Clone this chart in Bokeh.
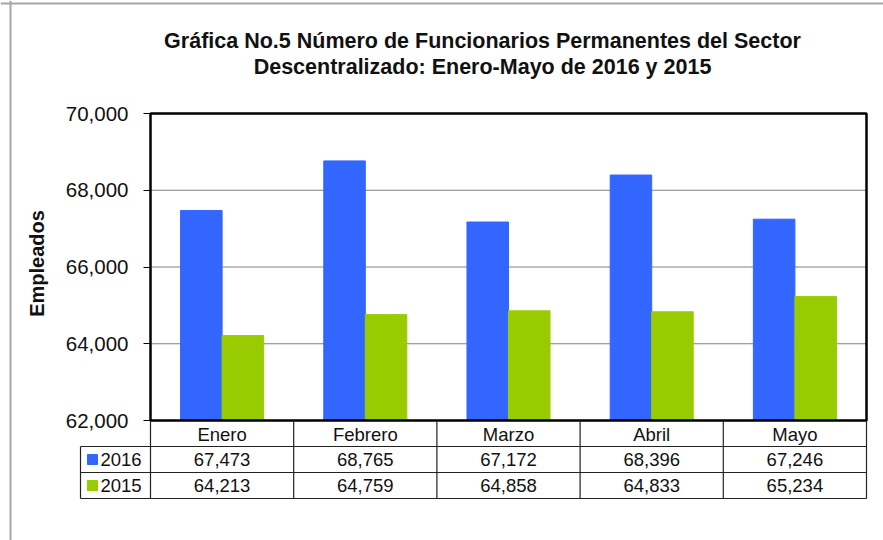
import numpy as np
from bokeh.plotting import figure
from bokeh.models import Range1d, LinearAxis, FixedTicker, NumeralTickFormatter, Label, Span
from bokeh.core.properties import value
from bokeh.embed import file_html
from bokeh.resources import INLINE

# ---------------- data ----------------
title_lines = ["Gráfica No.5 Número de Funcionarios Permanentes del Sector",
               "Descentralizado: Enero-Mayo de 2016 y 2015"]
y_label = "Empleados"
months = ["Enero", "Febrero", "Marzo", "Abril", "Mayo"]
series_names = ["2016", "2015"]
values_2016 = [67473, 68765, 67172, 68396, 67246]
values_2015 = [64213, 64759, 64858, 64833, 65234]
y_ticks = [62000, 64000, 66000, 68000, 70000]
colors = ["#3366FF", "#99CC00"]

# ---------------- layout (canvas pixels) ----------------
FONT = "Liberation Sans"
W, H = 883, 540
OX, OY = 0, 0
PLOT_L, PLOT_R = 150, 866
PLOT_T, PLOT_B = 113, 420
ROW_H = 26
LEG_L = 80
Y_MIN, Y_MAX = y_ticks[0], y_ticks[-1]
n = len(months)
sx = (PLOT_R - PLOT_L) / n
sy = (PLOT_B - PLOT_T) / (Y_MAX - Y_MIN)


def dx(px):
    return (px - PLOT_L) / sx


def dy(py):
    return Y_MIN + (PLOT_B - py) / sy


p = figure(width=W, height=H, output_backend="svg", toolbar_location=None,
           x_range=Range1d(dx(OX), dx(OX + W)), y_range=Range1d(dy(OY + H), dy(OY)),
           x_axis_type=None, y_axis_type=None, min_border=0)
p.title.visible = False
p.outline_line_color = None
p.background_fill_color = "white"
p.border_fill_color = "white"

# outer chart border (grey)
p.add_layout(Span(location=dx(10), dimension="height", line_color="#a6a6a6", line_width=2))
p.add_layout(Span(location=dy(3), dimension="width", line_color="#a6a6a6", line_width=2))

idx = np.arange(n)
centers = idx + 0.5

# gridlines
grid_vals = [t for t in y_ticks if Y_MIN < t < Y_MAX]
p.segment(x0=[0] * len(grid_vals), x1=[n] * len(grid_vals), y0=grid_vals, y1=grid_vals,
          line_color="#000000", line_width=1, line_dash="1 1")

# bars
bw = 0.29
p.vbar(x=centers - bw / 2, top=values_2016, bottom=Y_MIN, width=bw,
       fill_color=colors[0], line_color=colors[0])
p.vbar(x=centers + bw / 2, top=values_2015, bottom=Y_MIN, width=bw,
       fill_color=colors[1], line_color=colors[1])

# plot box
p.quad(left=[0], right=[n], bottom=[Y_MIN], top=[Y_MAX], fill_color=None,
       line_color="black", line_width=2.5)

# y axis
yax = LinearAxis(fixed_location=0, ticker=FixedTicker(ticks=y_ticks),
                 formatter=NumeralTickFormatter(format="0,0"), bounds=(Y_MIN, Y_MAX))
yax.axis_line_color = None
yax.major_tick_out = 7
yax.major_tick_in = 0
yax.minor_tick_out = 0
yax.minor_tick_in = 0
yax.major_tick_line_color = "black"
yax.major_label_standoff = 15
yax.major_label_text_font = FONT
yax.major_label_text_font_size = "20.5px"
yax.major_label_text_color = "#111111"
p.add_layout(yax, "left")

# x axis (category labels in the table header row)
xax = LinearAxis(fixed_location=Y_MIN, ticker=FixedTicker(ticks=list(centers)),
                 major_label_overrides={float(c): m for c, m in zip(centers, months)})
xax.axis_line_color = None
xax.major_tick_line_color = None
xax.major_tick_out = 0
xax.major_tick_in = 0
xax.minor_tick_out = 0
xax.minor_tick_in = 0
xax.major_label_standoff = 3
xax.major_label_text_font = FONT
xax.major_label_text_font_size = "18.5px"
xax.major_label_text_color = "#111111"
p.add_layout(xax, "below")

# data table lines
row_tops = [PLOT_B + ROW_H, PLOT_B + 2 * ROW_H, PLOT_B + 3 * ROW_H]
vx = list(range(n + 1))
p.segment(x0=vx, x1=vx, y0=[Y_MIN] * len(vx), y1=[dy(PLOT_B + 3 * ROW_H)] * len(vx),
          line_color="#222222", line_width=1.2)
p.segment(x0=[dx(LEG_L)], x1=[dx(LEG_L)], y0=[dy(PLOT_B + ROW_H)], y1=[dy(PLOT_B + 3 * ROW_H)],
          line_color="#222222", line_width=1.2)
hy = [dy(v) for v in row_tops]
p.segment(x0=[dx(LEG_L)] * 3, x1=[n] * 3, y0=hy, y1=hy, line_color="#222222", line_width=1.2)

# table rows
row_centers = [dy(PLOT_B + ROW_H * 1.5), dy(PLOT_B + ROW_H * 2.5)]
for vals, yc, name, col in zip([values_2016, values_2015], row_centers, series_names, colors):
    p.text(x=centers, y=[yc] * n, text=[f"{v:,}" for v in vals], text_align="center",
           text_baseline="middle", text_font=value(FONT), text_font_size=value("18.5px"),
           text_color="#111111")
    p.scatter(x=[dx(92)], y=[yc], marker="square", size=10, fill_color=col, line_color=col)
    p.text(x=[dx(100)], y=[yc], text=[name], text_align="left", text_baseline="middle",
           text_font=value(FONT), text_font_size=value("18.5px"), text_color="#111111")

# titles
for line, py in zip(title_lines, [40, 66]):
    p.add_layout(Label(x=dx(482), y=dy(py), text=line, text_align="center",
                       text_baseline="middle", text_font=FONT, text_font_size="21.5px",
                       text_font_style="bold", text_color="#111111"))

p.add_layout(Label(x=dx(36), y=dy(263), text=y_label, angle=np.pi / 2, text_align="center",
                   text_baseline="middle", text_font=FONT, text_font_size="20px",
                   text_font_style="bold", text_color="#111111"))

open("out.html", "w").write(file_html(p, INLINE))
